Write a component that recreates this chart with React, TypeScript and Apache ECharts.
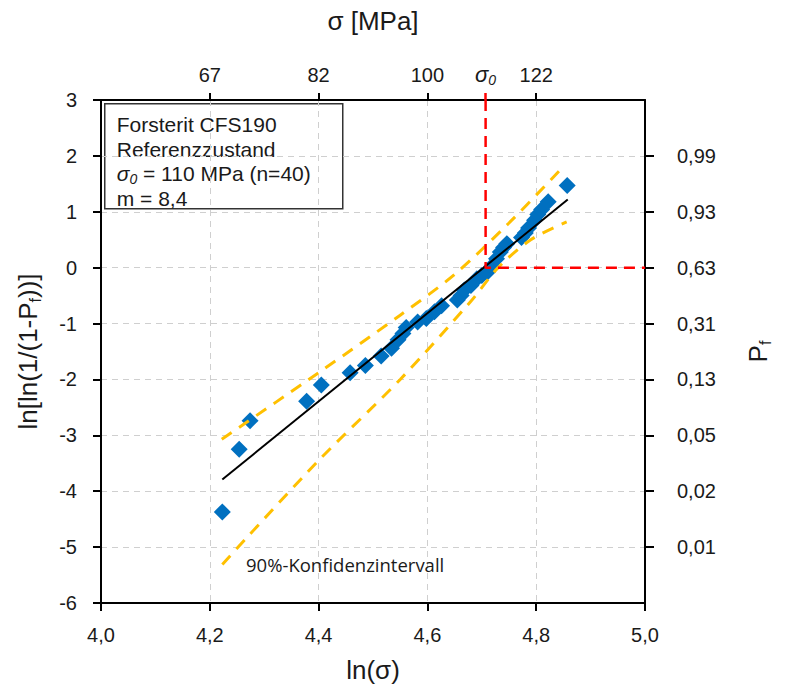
import React, { useEffect, useRef } from "react";
import * as echarts from "echarts";

// ---- data ----
const LN_SIGMA = [
  4.223, 4.254, 4.274, 4.378, 4.405, 4.458, 4.486, 4.515, 4.534, 4.546,
  4.555, 4.561, 4.582, 4.598, 4.613, 4.626, 4.655, 4.662, 4.668, 4.680,
  4.691, 4.700, 4.710, 4.718, 4.727, 4.734, 4.740, 4.746, 4.773, 4.780,
  4.786, 4.797, 4.803, 4.810, 4.822, 4.857,
];
const LN_LN_PF = [
  -4.37, -3.25, -2.74, -2.39, -2.10, -1.88, -1.75, -1.58, -1.44, -1.29,
  -1.18, -1.07, -0.97, -0.91, -0.79, -0.68, -0.58, -0.50, -0.40, -0.32,
  -0.20, -0.14, -0.08, 0.02, 0.16, 0.28, 0.36, 0.43, 0.54, 0.62,
  0.71, 0.85, 0.95, 1.04, 1.18, 1.47,
];
const FIT_X = [4.223, 4.858];
const FIT_Y = [-3.79, 1.22];
const UPPER_X = [4.222, 4.4, 4.55, 4.65, 4.75, 4.853];
const UPPER_Y = [-3.07, -1.88, -0.85, -0.12, 0.8, 1.84];
const LOWER_X = [4.223, 4.4, 4.55, 4.68, 4.73, 4.79, 4.856];
const LOWER_Y = [-5.31, -3.45, -2.0, -0.6, 0.0, 0.5, 0.82];
const SIGMA0_LN = 4.707; // position of σ0 line
const TOP_TICKS = [4.2, 4.4, 4.6, 4.8];
const TOP_LABELS = ["67", "82", "100", "122"];
const PF_TICKS = [2, 1, 0, -1, -2, -3, -4, -5];
const PF_LABELS = ["0,99", "0,93", "0,63", "0,31", "0,13", "0,05", "0,02", "0,01"];
const BOX_LINES = ["Forsterit CFS190", "Referenzzustand", "{i|σ}{s|0} = 110 MPa (n=40)", "m = 8,4"];
const CI_LABEL = "90%-Konfidenzintervall";

const FONT = "'Liberation Sans', Arial, sans-serif";
const TXT = "#1a1a1a";

export default function App() {
  const ref = useRef<HTMLDivElement>(null);
  useEffect(() => {
    document.body.style.margin = "0";
    const chart = echarts.init(ref.current!, undefined, { renderer: "svg" });
    const pair = (xs: number[], ys: number[]) => xs.map((x, i) => [x, ys[i]]);
    const gridLine = { show: true, lineStyle: { color: "#cfcfcf", type: [6, 5] as any, width: 1 } };
    const axisLine = { show: true, onZero: false, lineStyle: { color: "#000", width: 2 } };

    const option: any = {
      animation: false,
      backgroundColor: "#fff",
      grid: { left: 101, top: 100, right: 156, bottom: 92, containLabel: false },
      xAxis: [
        {
          type: "value", min: 4.0, max: 5.0, interval: 0.2, position: "bottom",
          name: "ln(σ)", nameLocation: "middle", nameGap: 54,
          nameTextStyle: { fontFamily: FONT, fontSize: 26, color: TXT },
          axisLine, axisTick: { show: true, inside: false, length: 8, lineStyle: { color: "#000", width: 2 } },
          axisLabel: { fontFamily: FONT, fontSize: 20, color: TXT, margin: 22,
            formatter: (v: number) => v.toFixed(1).replace(".", ",") },
          splitLine: gridLine,
        },
        {
          type: "value", min: 4.0, max: 5.0, position: "top",
          name: "σ [MPa]", nameLocation: "middle", nameGap: 66,
          nameTextStyle: { fontFamily: FONT, fontSize: 26, color: TXT },
          axisLine, axisTick: { show: true, length: 7, customValues: TOP_TICKS, lineStyle: { color: "#000", width: 2 } },
          axisLabel: { fontFamily: FONT, fontSize: 20, color: TXT, margin: 15, customValues: TOP_TICKS,
            formatter: (v: number) => {
              const i = TOP_TICKS.findIndex((t) => Math.abs(t - v) < 1e-6);
              return i >= 0 ? TOP_LABELS[i] : "";
            } },
          splitLine: { show: false },
        },
        {
          type: "value", min: 4.0, max: 5.0, position: "top",
          axisLine: { show: false, onZero: false },
          axisTick: { show: true, length: 7, customValues: [SIGMA0_LN], lineStyle: { color: "#ff0000", width: 2.5 } },
          axisLabel: { customValues: [SIGMA0_LN], margin: 13, formatter: () => "{i|σ}{s|0}",
            rich: {
              i: { fontFamily: FONT, fontSize: 22, fontStyle: "italic", color: TXT },
              s: { fontFamily: FONT, fontSize: 14, fontStyle: "italic", color: TXT, padding: [12, 0, 0, 0] },
            } },
          splitLine: { show: false },
        },
      ],
      yAxis: [
        {
          type: "value", min: -6, max: 3, interval: 1, position: "left",
          name: "ln[ln(1/(1-P{s|f}))]", nameLocation: "middle", nameGap: 58,
          nameTextStyle: { fontFamily: FONT, fontSize: 26, color: TXT,
            rich: { s: { fontFamily: FONT, fontSize: 16, color: TXT, padding: [14, 0, 0, 0] } } },
          axisLine, axisTick: { show: true, length: 8, lineStyle: { color: "#000", width: 2 } },
          axisLabel: { fontFamily: FONT, fontSize: 20, color: TXT, margin: 24 },
          splitLine: gridLine,
        },
        {
          type: "value", min: -6, max: 3, interval: 1, position: "right",
          name: "P{s|f}", nameLocation: "middle", nameGap: 98, nameRotate: 90,
          nameTextStyle: { fontFamily: FONT, fontSize: 26, color: TXT,
            rich: { s: { fontFamily: FONT, fontSize: 16, color: TXT, padding: [14, 0, 0, 0] } } },
          axisLine, axisTick: { show: true, length: 9, customValues: PF_TICKS, lineStyle: { color: "#000", width: 2 } },
          axisLabel: { fontFamily: FONT, fontSize: 20, color: TXT, margin: 32, customValues: PF_TICKS,
            formatter: (v: number) => {
              const i = PF_TICKS.findIndex((t) => Math.abs(t - v) < 1e-6);
              return i >= 0 ? PF_LABELS[i] : "";
            } },
          splitLine: { show: false },
        },
      ],
      series: [
        {
          type: "scatter", xAxisIndex: 0, yAxisIndex: 0, data: pair(LN_SIGMA, LN_LN_PF),
          symbol: "diamond", symbolSize: 17, itemStyle: { color: "#0070C0", opacity: 1 }, z: 2,
        },
        {
          type: "line", data: pair(UPPER_X, UPPER_Y), showSymbol: false, smooth: 0.3,
          lineStyle: { color: "#FFC000", width: 3, type: [12, 9] }, z: 3,
        },
        {
          type: "line", data: pair(LOWER_X, LOWER_Y), showSymbol: false, smooth: 0.3,
          lineStyle: { color: "#FFC000", width: 3, type: [12, 9] }, z: 3,
        },
        {
          type: "line", data: pair(FIT_X, FIT_Y), showSymbol: false,
          lineStyle: { color: "#000", width: 2 }, z: 4,
        },
        {
          type: "line", data: [[SIGMA0_LN, 3], [SIGMA0_LN, 0], [5.0, 0]], showSymbol: false,
          lineStyle: { color: "#ff0000", width: 2.5, type: [11, 7] }, z: 5,
        },
      ],
      graphic: [
        {
          type: "group", left: 104, top: 103, z: 10,
          children: [
            { type: "rect", shape: { x: 0, y: 0, width: 238, height: 105 },
              style: { fill: "#fff", stroke: "#333", lineWidth: 1.5 } },
            ...BOX_LINES.map((t, i) => ({
              type: "text", x: 12, y: 21 + i * 24.5,
              style: {
                text: t, fontFamily: FONT, fontSize: 21, fill: TXT, verticalAlign: "middle",
                rich: {
                  i: { fontFamily: FONT, fontSize: 21, fontStyle: "italic", fill: TXT },
                  s: { fontFamily: FONT, fontSize: 14, fontStyle: "italic", fill: TXT, padding: [10, 0, 0, 0] },
                },
              },
            })),
          ],
        },
        {
          type: "text", left: 246, top: 555, z: 10,
          style: { text: CI_LABEL, fontFamily: "'Open Sans', sans-serif", fontSize: 18.5, fill: TXT },
        },
      ],
    };
    chart.setOption(option);
    return () => chart.dispose();
  }, []);
  return <div ref={ref} style={{ width: 801, height: 695 }} />;
}
